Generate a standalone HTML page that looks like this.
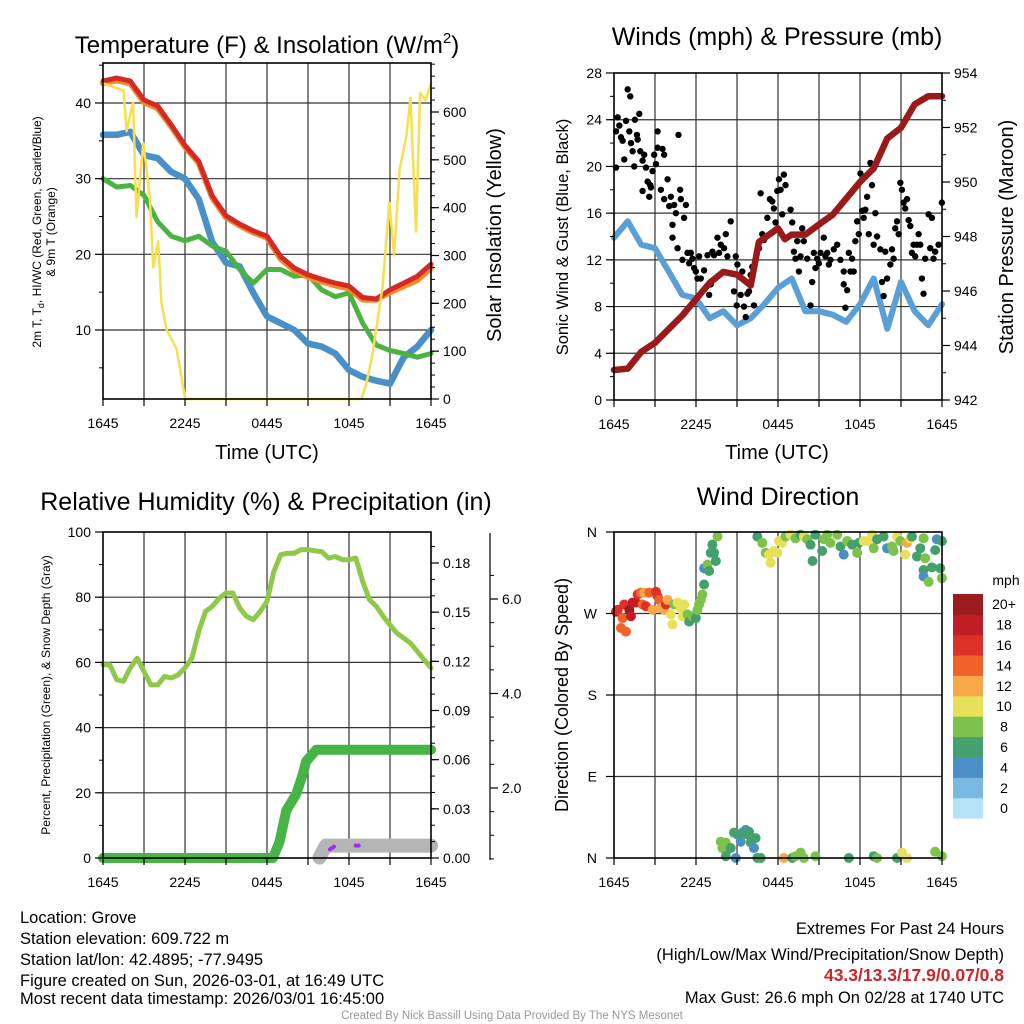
<!DOCTYPE html>
<html><head><meta charset="utf-8">
<style>
html,body{margin:0;padding:0;background:#fff;}
svg{display:block;font-family:"Liberation Sans",Arial,sans-serif;}
</style></head>
<body>
<svg id="fig" width="1024" height="1024" viewBox="0 0 1024 1024">
<rect width="1024" height="1024" fill="#fff"/>
<g id="p1"></g>
<g id="p2"></g>
<g id="p3"></g>
<g id="p4"></g>

<text x="267" y="53" font-size="24" text-anchor="middle">Temperature (F) &amp; Insolation (W/m<tspan font-size="15" dy="-10">2</tspan><tspan dy="10">)</tspan></text>
<text x="777" y="45" font-size="25" text-anchor="middle">Winds (mph) &amp; Pressure (mb)</text>
<text x="266" y="510" font-size="25" text-anchor="middle">Relative Humidity (%) &amp; Precipitation (in)</text>
<text x="778" y="505" font-size="25" text-anchor="middle">Wind Direction</text>

<text x="267" y="459" font-size="20" text-anchor="middle">Time (UTC)</text>
<text x="777" y="459" font-size="20" text-anchor="middle">Time (UTC)</text>

<text transform="translate(41,232) rotate(-90)" font-size="12" text-anchor="middle">2m T, T<tspan font-size="9" dy="3">d</tspan><tspan dy="-3">, HI/WC (Red, Green, Scarlet/Blue)</tspan></text>
<text transform="translate(55,232) rotate(-90)" font-size="12" text-anchor="middle">&amp; 9m T (Orange)</text>
<text transform="translate(501,235) rotate(-90)" font-size="20" text-anchor="middle">Solar Insolation (Yellow)</text>
<text transform="translate(568,237) rotate(-90)" font-size="16.5" text-anchor="middle">Sonic Wind &amp; Gust (Blue, Black)</text>
<text transform="translate(1013,237) rotate(-90)" font-size="20" text-anchor="middle">Station Pressure (Maroon)</text>
<text transform="translate(50,695) rotate(-90)" font-size="12" text-anchor="middle">Percent, Precipitation (Green), &amp; Snow Depth (Gray)</text>
<text transform="translate(568,695) rotate(-90)" font-size="18" text-anchor="middle">Direction (Colored By Speed)</text>

<g font-size="16.5">
<text x="20" y="923">Location: Grove</text>
<text x="20" y="944">Station elevation: 609.722 m</text>
<text x="20" y="965">Station lat/lon: 42.4895; -77.9495</text>
<text x="20" y="986">Figure created on Sun, 2026-03-01, at 16:49 UTC</text>
<text x="20" y="1004">Most recent data timestamp: 2026/03/01 16:45:00</text>
</g>
<g font-size="16.5" text-anchor="end">
<text x="1004" y="934">Extremes For Past 24 Hours</text>
<text x="1004" y="960">(High/Low/Max Wind/Precipitation/Snow Depth)</text>
<text x="1004" y="981" fill="#d0232a" font-weight="bold" font-size="17.5">43.3/13.3/17.9/0.07/0.8</text>
<text x="1004" y="1003">Max Gust: 26.6 mph On 02/28 at 1740 UTC</text>
</g>
<text x="512" y="1019" font-size="11.5" fill="#999" text-anchor="middle">Created By Nick Bassill Using Data Provided By The NYS Mesonet</text>
</svg>
<script>
// ---------- data ----------
const hours = [0,1,2,3,4,5,6,7,8,9,10,11,12,13,14,15,16,17,18,19,20,21,22,23,24];
const xTickLabels = ["1645","2245","0445","1045","1645"];
const tempRed = [42.9,43.3,42.9,40.4,39.6,37.1,34.4,32.3,27.7,25.1,24.0,23.1,22.4,19.7,18.2,17.3,16.7,16.2,15.8,14.3,14.1,15.3,16.2,17.1,18.7];
const tempOrange = [42.6,43.0,42.6,40.1,39.3,36.9,34.2,32.1,27.5,24.9,23.8,22.9,22.2,19.4,17.9,17.0,16.4,15.9,15.5,14.0,14.0,15.0,15.8,16.6,18.2];
const tempGreen = [30.0,28.9,29.1,27.8,24.3,22.4,21.8,22.4,21.1,20.4,18.0,16.2,18.0,18.0,17.1,17.3,15.3,14.4,14.9,10.9,8.0,7.3,6.9,6.4,6.9];
const tempBlue = [35.8,35.8,36.2,33.1,32.7,30.9,30.0,27.3,21.6,18.9,18.4,14.9,11.8,10.9,10.0,8.2,7.8,6.9,4.7,3.8,3.3,2.9,6.4,7.8,10.0];
const solarT = [0,0.5,1.5,1.73,2.2,2.45,2.95,3.43,3.67,4.04,4.28,4.65,5.38,5.99,6.1,18.9,19.25,19.7,20.46,20.95,21.3,21.7,22.2,22.5,22.9,23.2,23.6,24];
const solarV = [660,655,645,560,620,380,535,420,275,330,200,145,105,5,0,0,30,90,235,410,300,480,550,630,350,640,625,660];
const t1Ticks = [10,20,30,40];
const s1Ticks = [0,100,200,300,400,500,600];

const windSonic = [13.9,15.3,13.3,13.0,11.0,9.0,8.7,7.0,7.6,6.4,7.0,8.2,9.6,10.4,7.6,7.6,7.3,6.7,8.2,10.4,6.1,10.1,7.6,6.4,8.2];
const presT = [0,1,2,3,4,5,6,7,8,9,10,10.6,11,12,12.5,13,14,15,16,17,18,19,20,21,22,23,24];
const presV = [943.1,943.15,943.77,944.1,944.6,945.1,945.7,946.3,946.7,946.6,946.2,947.8,947.94,948.3,947.9,948.07,948.07,948.44,948.8,949.4,950.0,950.5,951.6,951.99,952.85,953.15,953.15];
const gustT = [0.15,0.15,0.27,0.39,0.51,0.63,0.75,0.88,1.0,1.12,1.19,1.24,1.36,1.48,1.53,1.68,1.73,1.85,1.92,2.09,2.09,2.21,2.34,2.46,2.58,2.65,2.7,2.82,2.94,3.07,3.19,3.19,3.43,3.55,3.67,3.67,3.92,4.04,4.16,4.28,4.28,4.4,4.53,4.65,4.72,4.84,4.89,5.01,5.13,5.26,5.38,5.5,5.62,5.74,5.86,5.99,6.11,6.23,6.35,6.59,6.84,6.96,7.08,7.2,7.32,7.57,7.69,7.81,8.05,8.18,8.3,8.54,8.78,8.91,8.98,9.03,9.27,9.39,9.51,9.64,9.76,9.88,10.0,10.12,10.24,10.61,10.73,10.85,10.97,11.22,11.41,11.58,11.7,11.82,11.95,12.07,12.19,12.31,12.43,12.55,12.92,13.04,13.16,13.28,13.41,13.53,13.65,13.77,13.89,14.14,14.38,14.5,14.62,14.74,14.87,14.99,15.11,15.35,15.47,15.6,15.72,15.84,16.08,16.33,16.57,16.81,16.81,16.93,17.06,17.18,17.3,17.42,17.54,17.66,17.79,17.91,18.03,18.15,18.27,18.39,18.52,18.64,18.76,18.88,19.0,19.12,19.25,19.49,19.61,19.73,19.85,19.98,20.22,20.34,20.46,20.58,20.71,20.83,20.95,21.07,21.19,21.31,21.44,21.56,21.68,21.8,21.92,22.04,22.17,22.29,22.41,22.53,22.65,22.77,23.02,23.14,23.26,23.38,23.5,23.75,23.99];
const gustV = [19.9,23.0,24.2,23.5,22.5,22.2,20.6,23.9,26.6,23.0,26.0,22.0,21.3,20.0,24.0,22.7,22.3,24.5,21.3,20.5,17.9,21.0,19.9,18.7,17.4,18.4,18.2,19.6,21.0,20.2,23.0,21.6,18.0,21.5,17.2,21.0,18.9,16.6,17.4,15.0,13.9,16.7,16.0,13.0,22.7,18.0,17.2,12.0,15.6,16.7,12.6,11.7,12.6,12.1,11.3,11.0,10.4,12.3,10.4,11.1,12.4,9.0,9.9,12.7,12.4,13.9,12.6,13.3,13.0,14.2,12.3,15.3,9.3,12.3,8.1,11.6,9.0,11.0,8.0,7.1,9.1,9.3,10.7,11.4,8.1,13.0,17.7,14.2,13.7,15.6,17.2,17.0,16.4,15.2,17.9,18.9,18.0,15.9,19.3,18.4,16.3,15.2,12.7,12.1,13.6,11.0,12.3,14.7,13.6,12.1,8.1,10.1,12.6,11.3,12.1,11.7,12.6,13.9,12.3,12.6,11.6,12.0,12.9,13.3,12.0,11.0,9.9,7.9,9.4,12.6,11.0,12.1,11.0,13.6,15.3,14.2,19.4,16.2,15.6,16.3,17.4,14.2,20.3,18.4,13.3,16.0,14.0,12.9,10.1,8.9,12.7,10.4,11.6,12.9,12.1,14.7,15.3,14.2,18.6,18.0,16.9,16.4,17.2,15.4,14.9,12.6,13.3,12.3,13.3,14.2,13.3,10.4,9.1,12.1,15.9,13.0,15.6,12.1,12.7,13.3,16.9];
const w2Ticks = [0,4,8,12,16,20,24,28];
const p2Ticks = [942,944,946,948,950,952,954];

const rhT = [0,0.5,1,1.5,2,2.5,3,3.5,4,4.5,5,5.5,6,6.5,7,7.5,8,8.5,9,9.5,10,10.5,11,11.5,12,12.5,13,13.5,14,14.5,15,15.5,16,16.5,17,17.5,18,18.5,19,19.5,20,20.5,21,21.5,22,22.5,23,23.5,24];
const rhV = [59.3,59.3,54.7,54.2,58.3,61.3,57.2,53.1,53.1,55.7,55.2,56.2,58.3,61.3,69.5,75.6,77.2,79.7,81.3,81.3,76.7,74.1,73.1,75.6,78.7,87.9,93.0,93.5,93.5,94.6,94.6,94.2,94.0,92.0,92.5,91.5,91.5,92.0,84.8,79.2,77.2,74.1,71.5,69.0,67.5,65.9,63.4,60.8,58.3];
const precipT = [0,12.43,12.92,13.41,14.14,14.62,14.87,15.6,24];
const precipV = [0,0,0.010,0.029,0.039,0.051,0.059,0.066,0.066];
const snowT = [15.84,16.3,24];
const snowV = [0.53,0.78,0.78];
const snowChgT = [[16.6,16.9],[18.5,18.7]];
const snowChgV = [[0.70,0.76],[0.78,0.78]];
const rhTicks = [0,20,40,60,80,100];
const pcTicks = [0.00,0.03,0.06,0.09,0.12,0.15,0.18];
const snTicks = [2.0,4.0,6.0];

const dirT = [0.15,0.27,0.51,0.63,0.75,0.88,1.12,1.24,1.36,1.6,1.73,1.97,2.09,2.21,2.34,2.58,2.82,3.07,3.19,3.31,3.43,3.67,3.8,3.92,4.16,4.28,4.4,4.65,4.89,5.01,5.13,5.38,5.5,5.74,5.99,6.11,6.23,6.35,6.47,6.59,6.59,6.84,6.96,7.08,7.2,7.32,7.45,7.57,
 10.49,10.85,11.1,11.34,11.46,11.7,11.95,12.07,12.31,12.55,12.92,13.28,13.65,13.89,14.14,14.38,14.53,14.74,15.23,15.35,15.6,15.84,16.33,16.57,16.81,17.06,17.42,17.79,17.91,18.27,18.64,18.88,19.0,19.25,19.73,19.98,20.34,20.46,20.71,20.95,21.31,21.44,21.68,21.8,22.17,22.41,22.65,22.77,22.65,22.65,23.02,23.26,23.5,23.62,23.87,23.99,23.99,
 7.81,7.93,8.18,8.3,8.54,8.78,9.03,9.27,9.39,9.64,9.76,9.88,10.0,10.24,10.36,8.18,8.91,10.49,10.73,12.43,13.04,13.28,13.65,13.89,14.74,17.18,19.0,19.25,20.71,21.07,21.44,23.5,23.99];
const dirV = [272,274,254,265,280,250,274,267,282,282,291,293,280,293,278,293,274,294,289,285,276,274,280,285,269,258,280,282,276,267,280,269,261,267,265,274,280,285,291,302,320,324,317,337,346,337,328,355,
 355,348,337,335,326,339,337,350,348,355,357,353,357,355,352,346,328,357,339,352,357,348,357,344,335,350,346,337,348,350,350,357,342,352,355,342,344,339,355,350,335,348,353,355,333,342,353,331,318,311,305,321,340,352,320,309,350,
 18,11,17,9,11,28,26,18,28,31,26,29,17,11,22,2,0,0,0,0,0,2,6,0,2,0,2,0,0,6,0,7,2];
const dirS = [18,16,14,14,16,14,20,18,18,18,16,14,14,12,16,14,12,16,16,14,12,12,16,12,10,10,8,10,10,10,10,8,6,8,6,8,8,8,8,6,4,8,6,6,6,6,6,8,
 6,8,8,10,10,10,10,10,10,8,10,8,6,10,8,6,6,6,6,8,8,8,8,6,4,8,6,8,6,10,10,10,8,6,6,4,8,8,10,8,10,12,10,6,6,6,8,8,6,4,8,6,6,4,6,8,6,
 8,8,8,8,6,6,6,4,6,4,6,6,6,4,6,6,4,6,6,12,6,8,8,8,8,6,6,8,6,10,10,8,8];
const dirTicks = ["N","E","S","W","N"];
const cbLabels = ["0","2","4","6","8","10","12","14","16","18","20+"];
const cbColors = ["#b6e3f7","#79b8e3","#4a8fc6","#44a06c","#7dc24a","#e8e05a","#f8a849","#f1622b","#dd3127","#c01d26","#9b1b1f"];

// ---------- helpers ----------
const NS = "http://www.w3.org/2000/svg";
function mk(parent, tag, attrs){ const e=document.createElementNS(NS,tag); for(const k in attrs) e.setAttribute(k,attrs[k]); parent.appendChild(e); return e; }
function lin(d0,d1,r0,r1){ return v => r0 + (v-d0)*(r1-r0)/(d1-d0); }
function pathOf(xs, ys, fx, fy){ return xs.map((t,i)=>(i?"L":"M")+fx(t).toFixed(1)+","+fy(ys[i]).toFixed(1)).join(""); }

function frame(g, L, R, T, B, fx, hGridYs){
  for(let h=3; h<24; h+=3){
    const gl = mk(g,"line",{x1:fx(h),x2:fx(h),y1:T,y2:B,stroke:"#333","stroke-width":1.2});
    
    
  }
  hGridYs.forEach(y=>{
    const gl = mk(g,"line",{x1:L,x2:R,y1:y,y2:y,stroke:"#333","stroke-width":1.2});
    
    
  });
}
function box(g,L,R,T,B){
  const r = mk(g,"rect",{x:L,y:T,width:R-L,height:B-T,fill:"none",stroke:"#000","stroke-width":1.6});
  
  
}
function xAxis(g,fx,B){
  for(let h=0; h<=24; h+=3){
    const tk = mk(g,"line",{x1:fx(h),x2:fx(h),y1:B,y2:B+7,stroke:"#000","stroke-width":1.2});
    
    
  }
  xTickLabels.forEach((s,i)=>{
    const t = mk(g,"text",{x:fx(i*6),y:B+29,"font-size":14,"text-anchor":"middle"});
    t.textContent = s;
    
    
  });
}
function yTicks(g, ticks, fy, x, side, fmt, minorStep, lo, hi){
  const dir = side==="left"?-1:1;
  if(minorStep){ for(let v=lo; v<=hi+1e-9; v+=minorStep){ const y=fy(v); mk(g,"line",{x1:x,x2:x+dir*4,y1:y,y2:y,stroke:"#000","stroke-width":1}); } }
  ticks.forEach(v=>{
    const y=fy(v);
    const tk = mk(g,"line",{x1:x,x2:x+dir*8,y1:y,y2:y,stroke:"#000","stroke-width":1.2});
    
    
    const t = mk(g,"text",{x:x+dir*12,y:y+5,"font-size":14,"text-anchor":side==="left"?"end":"start"});
    t.textContent = fmt(v);
    
    
  });
}
function line(g, xs, ys, fx, fy, color, w, name){
  const p = mk(g,"path",{d:pathOf(xs,ys,fx,fy),fill:"none",stroke:color,"stroke-width":w,"stroke-linejoin":"round","stroke-linecap":"round"});
  
  
  return p;
}

// ---------- panel 1 ----------
(function(){
  const g=document.getElementById("p1");
  const L=103,R=431,T=63,B=399;
  const fx=lin(0,24,L,R), fy=lin(10,40,330,103), fs=lin(0,600,B,112);
  frame(g,L,R,T,B,fx,t1Ticks.map(fy));
  line(g,hours,tempBlue,fx,fy,"#4a90c8",6.5,"wind-chill-line");
  line(g,hours,tempGreen,fx,fy,"#4bb342",5,"dewpoint-line");
  line(g,hours,tempOrange,fx,fy,"#f48a2a",6,"temp-9m-line");
  line(g,hours,tempRed,fx,fy,"#d42a26",5,"temp-2m-line");
  line(g,solarT,solarV,fx,fs,"#f7df4f",2.5,"solar-insolation-line");
  box(g,L,R,T,B);
  xAxis(g,fx,B);
  yTicks(g,t1Ticks,fy,L,"left",v=>String(v),5,5,45);
  yTicks(g,s1Ticks,fs,R,"right",v=>String(v),25,0,700);
})();

// ---------- panel 2 ----------
(function(){
  const g=document.getElementById("p2");
  const L=614,R=942,T=73,B=400;
  const fx=lin(0,24,L,R), fy=lin(0,28,B,T), fp=lin(942,954,B,T);
  frame(g,L,R,T,B,fx,w2Ticks.slice(1,-1).map(fy));
  line(g,hours,windSonic,fx,fy,"#5a9fd6",6,"sonic-wind-line");
  gustT.forEach((t,i)=>{
    const c = mk(g,"circle",{cx:fx(t),cy:fy(gustV[i]),r:3.2,fill:"#000"});
    
    
  });
  line(g,presT,presV,fx,fp,"#9a1a1c",6.5,"pressure-line");
  box(g,L,R,T,B);
  xAxis(g,fx,B);
  yTicks(g,w2Ticks,fy,L,"left",v=>String(v),2,0,28);
  yTicks(g,p2Ticks,fp,R,"right",v=>String(v),1,942,954);
})();

// ---------- panel 3 ----------
(function(){
  const g=document.getElementById("p3");
  const L=103,R=431,T=532,B=858;
  const fx=lin(0,24,L,R), fy=lin(0,100,B,T), fpc=lin(0,0.18,B,563), fsn=lin(2,6,788,599);
  frame(g,L,R,T,B,fx,rhTicks.slice(1,-1).map(fy));
  line(g,snowT,snowV,fx,fsn,"#b5b5b5",14,"snow-depth-line");
  snowChgT.forEach((ts,i)=>line(g,ts,snowChgV[i],fx,fsn,"#9b30f0",4,"snow-change-mark"));
  line(g,rhT,rhV,fx,fy,"#8ec94a",5,"relative-humidity-line");
  line(g,precipT,precipV,fx,fpc,"#46b545",10,"precipitation-line");
  box(g,L,R,T,B);
  xAxis(g,fx,B);
  yTicks(g,rhTicks,fy,L,"left",v=>String(v),10,0,100);
  yTicks(g,pcTicks,fpc,R,"right",v=>v.toFixed(2),0.01,0,0.19);
  const sx=490;
  mk(g,"line",{x1:sx,x2:sx,y1:533,y2:860,stroke:"#000","stroke-width":1.2});
  yTicks(g,snTicks,fsn,sx,"right",v=>v.toFixed(1),0.5,0.5,6.5);
})();

// ---------- panel 4 ----------
(function(){
  const g=document.getElementById("p4");
  const L=614,R=942,T=532,B=858;
  const fx=lin(0,24,L,R), fy=lin(0,360,B,T);
  frame(g,L,R,T,B,fx,[90,180,270].map(fy));
  dirT.forEach((t,i)=>{
    const idx=Math.min(10,Math.floor(dirS[i]/2));
    const c = mk(g,"circle",{cx:fx(t),cy:fy(dirV[i]),r:5,fill:cbColors[idx]});
    
    
  });
  box(g,L,R,T,B);
  xAxis(g,fx,B);
  dirTicks.forEach((s,i)=>{
    const y=fy(i*90);
    mk(g,"line",{x1:L,x2:L-8,y1:y,y2:y,stroke:"#000","stroke-width":1.2});
    const t=mk(g,"text",{x:L-17,y:y+5,"font-size":14,"text-anchor":"end"});
    t.textContent=s;
    
    
  });
  const cb = mk(g,"g",{});
  
  
  const top=594, h=20.4;
  cbColors.forEach((c,i)=>{
    const y=top+(10-i)*h;
    mk(cb,"rect",{x:953,y:y,width:30,height:h+0.3,fill:c});
    const t=mk(cb,"text",{x:1004,y:y+h/2+5,"font-size":14,"text-anchor":"middle"});
    t.textContent=cbLabels[i];
    
    
  });
  const u=mk(cb,"text",{x:1006,y:585,"font-size":14,"text-anchor":"middle"});
  u.textContent="mph";
  
  
})();
</script>
</body></html>
